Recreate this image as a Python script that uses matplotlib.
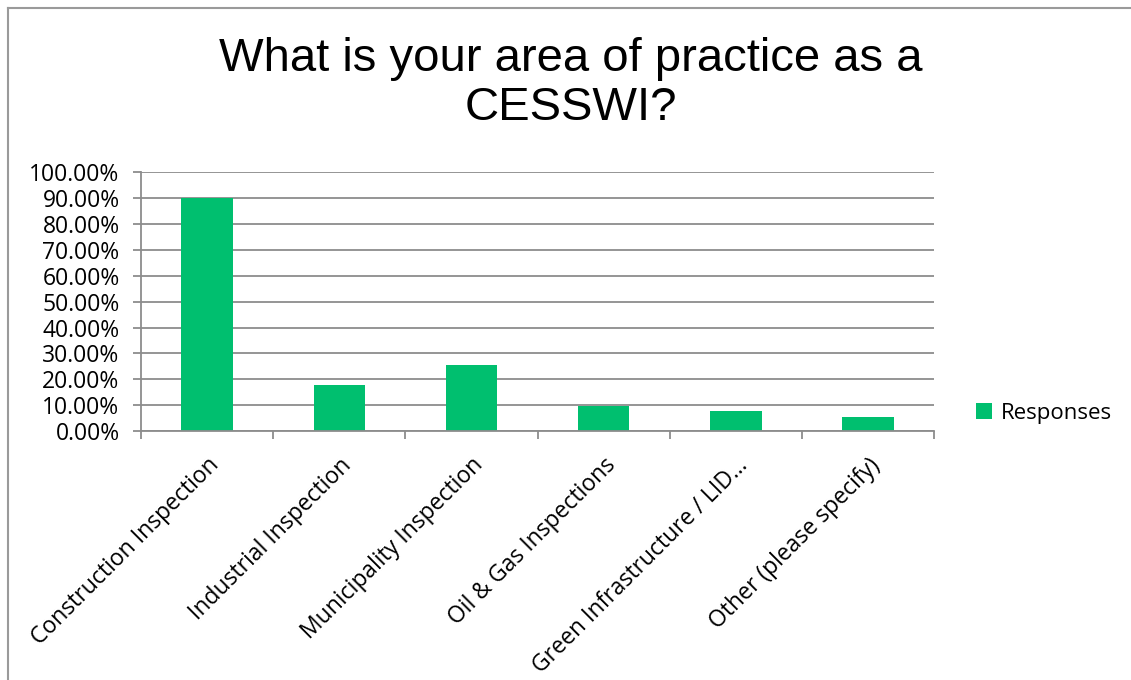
import matplotlib
matplotlib.use("Agg")
import matplotlib.pyplot as plt
from matplotlib.lines import Line2D
import numpy as np

categories = [
    "Construction Inspection",
    "Industrial Inspection",
    "Municipality Inspection",
    "Oil & Gas Inspections",
    "Green Infrastructure / LID...",
    "Other (please specify)",
]
responses = [0.90, 0.18, 0.257, 0.096, 0.079, 0.056]
y_ticks = [0.0, 0.1, 0.2, 0.3, 0.4, 0.5, 0.6, 0.7, 0.8, 0.9, 1.0]

GREEN = "#00BF6F"
GRID = "#8C8C8C"
LABEL_FONT = ["Open Sans", "DejaVu Sans"]
TITLE_FONT = ["Liberation Sans", "DejaVu Sans"]

fig = plt.figure(figsize=(11.31, 6.8), dpi=100)
ax = fig.add_axes([0.1247, 0.366, 0.8258 - 0.1247, 0.7466 - 0.366])

x = np.arange(len(categories))
ax.bar(x, responses, width=0.39, color=GREEN, zorder=3, label="Responses")

ax.set_xlim(-0.5, len(categories) - 0.5)
ax.set_ylim(0, 1.0)

# horizontal gridlines
ax.set_yticks(y_ticks)
ax.set_yticklabels([f"{v * 100:.2f}%" for v in y_ticks], family=LABEL_FONT, fontsize=16.5)
ax.yaxis.grid(True, color=GRID, linewidth=1.3, zorder=0)
ax.tick_params(axis="y", direction="out", length=5.5, width=1.3, color=GRID, pad=10)

# category labels at the bar centers, tick marks at the category boundaries
ax.set_xticks(x)
ax.set_xticklabels(categories, family=LABEL_FONT, fontsize=16.5, rotation=45,
                   ha="right", rotation_mode="anchor")
ax.set_xticks(np.arange(len(categories) + 1) - 0.5, minor=True)
ax.tick_params(axis="x", which="major", length=0, pad=16)
ax.tick_params(axis="x", which="minor", direction="out", length=5.5, width=1.3, color=GRID)

for side in ["top", "right"]:
    ax.spines[side].set_visible(False)
for side in ["left", "bottom"]:
    ax.spines[side].set_color(GRID)
    ax.spines[side].set_linewidth(1.3)
    ax.spines[side].set_zorder(4)

fig.text(0.505, 0.945, "What is your area of practice as a\nCESSWI?", ha="center", va="top",
         family=TITLE_FONT, fontsize=34, linespacing=1.13)

leg = ax.legend(loc="center left", bbox_to_anchor=(1.028, 0.07), frameon=False,
                prop={"family": LABEL_FONT, "size": 16}, handlelength=0.7,
                handleheight=0.7, handletextpad=0.4)

# chart border (top and left edges)
fig.add_artist(Line2D([8 / 1131, 1.0], [1 - 8 / 680, 1 - 8 / 680], color="#9A9A9A", linewidth=1.5))
fig.add_artist(Line2D([8 / 1131, 8 / 1131], [0.0, 1 - 8 / 680], color="#9A9A9A", linewidth=1.5))

fig.savefig("out.png", dpi=100, facecolor="white")
